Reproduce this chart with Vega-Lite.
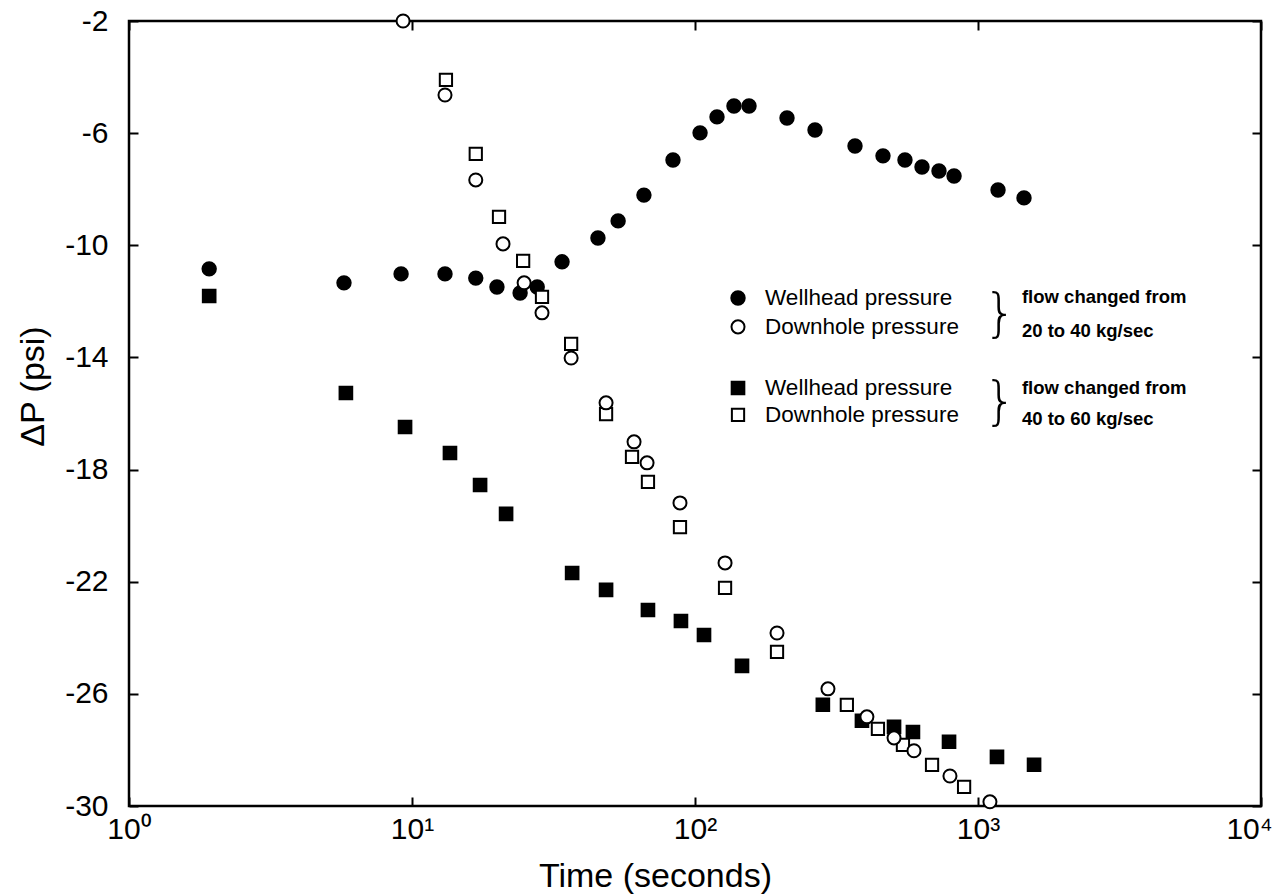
{
  "$schema": "https://vega.github.io/schema/vega-lite/v6.json",
  "width": 1132,
  "height": 785,
  "autosize": {"type": "none"},
  "padding": {"left": 129, "top": 21, "right": 14, "bottom": 89},
  "background": "white",
  "config": {
    "view": {"stroke": "black", "strokeWidth": 2.5},
    "font": "Liberation Sans",
    "axis": {"grid": false, "domain": false, "tickColor": "black", "tickWidth": 2, "tickSize": -9, "labelColor": "black", "titleColor": "black", "labelFont": "Liberation Sans", "titleFont": "Liberation Sans", "titleFontWeight": "normal"}
  },
  "datasets": {
    "pts": [
      {"series": "WH1", "t": 1.92, "dp": -10.84},
      {"series": "WH1", "t": 5.75, "dp": -11.34},
      {"series": "WH1", "t": 9.15, "dp": -11.02},
      {"series": "WH1", "t": 13.08, "dp": -11.02},
      {"series": "WH1", "t": 16.8, "dp": -11.17},
      {"series": "WH1", "t": 19.96, "dp": -11.49},
      {"series": "WH1", "t": 24.1, "dp": -11.7},
      {"series": "WH1", "t": 27.7, "dp": -11.49},
      {"series": "WH1", "t": 33.9, "dp": -10.59},
      {"series": "WH1", "t": 45.4, "dp": -9.74},
      {"series": "WH1", "t": 53.5, "dp": -9.13},
      {"series": "WH1", "t": 66.0, "dp": -8.21},
      {"series": "WH1", "t": 83.6, "dp": -6.96},
      {"series": "WH1", "t": 104.2, "dp": -5.99},
      {"series": "WH1", "t": 119.6, "dp": -5.42},
      {"series": "WH1", "t": 137.3, "dp": -5.03},
      {"series": "WH1", "t": 155.2, "dp": -5.03},
      {"series": "WH1", "t": 211.4, "dp": -5.46},
      {"series": "WH1", "t": 265.5, "dp": -5.89},
      {"series": "WH1", "t": 367.6, "dp": -6.46},
      {"series": "WH1", "t": 461.6, "dp": -6.81},
      {"series": "WH1", "t": 552, "dp": -6.96},
      {"series": "WH1", "t": 634, "dp": -7.21},
      {"series": "WH1", "t": 728, "dp": -7.35},
      {"series": "WH1", "t": 823, "dp": -7.53},
      {"series": "WH1", "t": 1177, "dp": -8.03},
      {"series": "WH1", "t": 1454, "dp": -8.31},
      {"series": "WH2", "t": 1.92, "dp": -11.81},
      {"series": "WH2", "t": 5.84, "dp": -15.27},
      {"series": "WH2", "t": 9.45, "dp": -16.48},
      {"series": "WH2", "t": 13.62, "dp": -17.41},
      {"series": "WH2", "t": 17.4, "dp": -18.55},
      {"series": "WH2", "t": 21.5, "dp": -19.58},
      {"series": "WH2", "t": 36.8, "dp": -21.69},
      {"series": "WH2", "t": 48.5, "dp": -22.29},
      {"series": "WH2", "t": 68.2, "dp": -23.01},
      {"series": "WH2", "t": 89.2, "dp": -23.4},
      {"series": "WH2", "t": 107.6, "dp": -23.9},
      {"series": "WH2", "t": 146.6, "dp": -25.0},
      {"series": "WH2", "t": 283, "dp": -26.39},
      {"series": "WH2", "t": 389, "dp": -26.96},
      {"series": "WH2", "t": 505, "dp": -27.18},
      {"series": "WH2", "t": 589, "dp": -27.36},
      {"series": "WH2", "t": 790, "dp": -27.71},
      {"series": "WH2", "t": 1167, "dp": -28.25},
      {"series": "WH2", "t": 1578, "dp": -28.53},
      {"series": "DH2", "t": 13.18, "dp": -4.1},
      {"series": "DH2", "t": 16.8, "dp": -6.74},
      {"series": "DH2", "t": 20.3, "dp": -8.99},
      {"series": "DH2", "t": 24.7, "dp": -10.56},
      {"series": "DH2", "t": 28.8, "dp": -11.84},
      {"series": "DH2", "t": 36.5, "dp": -13.52},
      {"series": "DH2", "t": 48.5, "dp": -16.02},
      {"series": "DH2", "t": 59.9, "dp": -17.55},
      {"series": "DH2", "t": 68.2, "dp": -18.44},
      {"series": "DH2", "t": 88.5, "dp": -20.05},
      {"series": "DH2", "t": 127.7, "dp": -22.22},
      {"series": "DH2", "t": 194.9, "dp": -24.5},
      {"series": "DH2", "t": 344, "dp": -26.39},
      {"series": "DH2", "t": 443, "dp": -27.25},
      {"series": "DH2", "t": 543, "dp": -27.82},
      {"series": "DH2", "t": 688, "dp": -28.53},
      {"series": "DH2", "t": 893, "dp": -29.32},
      {"series": "DH1", "t": 9.3, "dp": -2.0},
      {"series": "DH1", "t": 13.08, "dp": -4.64},
      {"series": "DH1", "t": 16.8, "dp": -7.67},
      {"series": "DH1", "t": 20.97, "dp": -9.95},
      {"series": "DH1", "t": 24.9, "dp": -11.34},
      {"series": "DH1", "t": 28.8, "dp": -12.41},
      {"series": "DH1", "t": 36.5, "dp": -14.02},
      {"series": "DH1", "t": 48.5, "dp": -15.62},
      {"series": "DH1", "t": 60.9, "dp": -17.01},
      {"series": "DH1", "t": 67.7, "dp": -17.76},
      {"series": "DH1", "t": 88.5, "dp": -19.19},
      {"series": "DH1", "t": 127.7, "dp": -21.33},
      {"series": "DH1", "t": 194.9, "dp": -23.83},
      {"series": "DH1", "t": 295, "dp": -25.82},
      {"series": "DH1", "t": 405, "dp": -26.82},
      {"series": "DH1", "t": 505, "dp": -27.57},
      {"series": "DH1", "t": 594, "dp": -28.03},
      {"series": "DH1", "t": 796, "dp": -28.93},
      {"series": "DH1", "t": 1102, "dp": -29.85}
    ],
    "legendSymbols": [
      {"series": "WH1", "t": 141.9, "dp": -11.88},
      {"series": "DH1", "t": 141.9, "dp": -12.91},
      {"series": "WH2", "t": 141.9, "dp": -15.09},
      {"series": "DH2", "t": 141.9, "dp": -16.05}
    ],
    "legendLabels": [
      {"t": 176.8, "dp": -11.88, "label": "Wellhead pressure"},
      {"t": 176.8, "dp": -12.91, "label": "Downhole pressure"},
      {"t": 176.8, "dp": -15.09, "label": "Wellhead pressure"},
      {"t": 176.8, "dp": -16.05, "label": "Downhole pressure"}
    ],
    "legendNotes": [
      {"t": 1430, "dp": -11.84, "label": "flow changed from"},
      {"t": 1430, "dp": -13.06, "label": "20 to 40 kg/sec"},
      {"t": 1430, "dp": -15.09, "label": "flow changed from"},
      {"t": 1430, "dp": -16.19, "label": "40 to 60 kg/sec"}
    ],
    "braces": [
      {"t": 1196, "dp": -12.45, "label": "}"},
      {"t": 1196, "dp": -15.6, "label": "}"}
    ]
  },
  "layer": [
    {
      "data": {"name": "pts"},
      "mark": {"type": "point", "filled": true, "stroke": "black", "strokeWidth": 2, "opacity": 1},
      "encoding": {
        "x": {"field": "t", "type": "quantitative", "scale": {"type": "log", "domain": [1, 10000], "nice": false},
          "axis": {"orient": "bottom", "values": [1, 10, 100, 1000, 10000], "labelExpr": "'10' + ['⁰','¹','²','³','⁴'][round(log(datum.value)/LN10)]", "labelFontSize": 30, "labelFlush": false, "labelBound": false, "labelPadding": 17, "labelOffset": {"condition": {"test": "datum.value == 10000", "value": -12}, "value": 0}, "title": "Time (seconds)", "titleFontSize": 34, "titleX": 526, "titleY": 70, "titleBaseline": "middle"}},
        "y": {"field": "dp", "type": "quantitative", "scale": {"domain": [-30, -2], "nice": false, "zero": false},
          "axis": {"orient": "left", "values": [-2, -6, -10, -14, -18, -22, -26, -30], "labelExpr": "'' + datum.value", "labelFontSize": 30, "labelPadding": 30, "labelFlush": false, "title": "ΔP (psi)", "titleFontSize": 34, "titleX": -96, "titleY": 365, "titleBaseline": "middle"}},
        "shape": {"field": "series", "type": "nominal", "scale": {"domain": ["WH1", "DH1", "WH2", "DH2"], "range": ["circle", "circle", "square", "square"]}, "legend": null},
        "fill": {"field": "series", "type": "nominal", "scale": {"domain": ["WH1", "DH1", "WH2", "DH2"], "range": ["black", "white", "black", "white"]}, "legend": null},
        "size": {"field": "series", "type": "nominal", "scale": {"domain": ["WH1", "DH1", "WH2", "DH2"], "range": [180, 150, 160, 130]}, "legend": null}
      }
    },
    {
      "data": {"name": "legendSymbols"},
      "mark": {"type": "point", "filled": true, "stroke": "black", "strokeWidth": 2, "opacity": 1},
      "encoding": {
        "x": {"field": "t", "type": "quantitative", "axis": {"orient": "top", "values": [1, 10, 100, 1000, 10000], "labels": false, "title": null}},
        "y": {"field": "dp", "type": "quantitative", "axis": {"orient": "right", "values": [-2, -6, -10, -14, -18, -22, -26, -30], "labels": false, "title": null}},
        "shape": {"field": "series", "type": "nominal", "legend": null},
        "fill": {"field": "series", "type": "nominal", "legend": null},
        "size": {"field": "series", "type": "nominal", "legend": null}
      }
    },
    {
      "data": {"name": "legendLabels"},
      "mark": {"type": "text", "align": "left", "baseline": "middle", "fontSize": 22.5, "font": "Liberation Sans", "color": "black"},
      "encoding": {
        "x": {"field": "t", "type": "quantitative", "axis": null},
        "y": {"field": "dp", "type": "quantitative", "axis": null},
        "text": {"field": "label"}
      }
    },
    {
      "data": {"name": "legendNotes"},
      "mark": {"type": "text", "align": "left", "baseline": "middle", "fontSize": 18.5, "fontWeight": "bold", "font": "Liberation Sans", "color": "black"},
      "encoding": {
        "x": {"field": "t", "type": "quantitative", "axis": null},
        "y": {"field": "dp", "type": "quantitative", "axis": null},
        "text": {"field": "label"}
      }
    },
    {
      "data": {"name": "braces"},
      "mark": {"type": "text", "align": "center", "baseline": "middle", "fontSize": 52, "fontWeight": 200, "font": "DejaVu Sans", "color": "black"},
      "encoding": {
        "x": {"field": "t", "type": "quantitative", "axis": null},
        "y": {"field": "dp", "type": "quantitative", "axis": null},
        "text": {"field": "label"}
      }
    }
  ],
  "resolve": {"axis": {"x": "independent", "y": "independent"}}
}
